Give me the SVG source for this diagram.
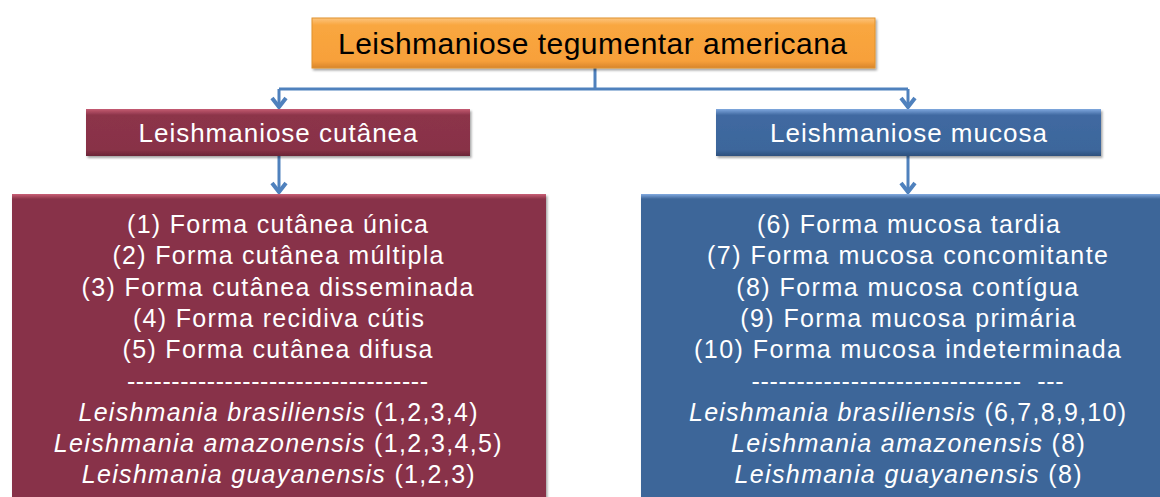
<svg xmlns="http://www.w3.org/2000/svg" width="1160" height="497" viewBox="0 0 1160 497">
<style>
  .t { font-family: "Liberation Sans", Arial, sans-serif; text-anchor: middle; }
  .w { fill: #FFFFFF; }
  .b { font-size: 25px; }
  .i { font-style: italic; }
  .conn { fill: none; stroke: #4F81BD; stroke-width: 3; }
</style>
<defs>
  <linearGradient id="gOr" x1="0" y1="0" x2="0" y2="1">
    <stop offset="0" stop-color="#FDC47C"/>
    <stop offset="0.14" stop-color="#F9A740"/>
    <stop offset="0.86" stop-color="#F7A03A"/>
    <stop offset="1" stop-color="#D8852C"/>
  </linearGradient>
  <linearGradient id="gMa" x1="0" y1="0" x2="0" y2="1">
    <stop offset="0" stop-color="#C55C72"/>
    <stop offset="0.13" stop-color="#8C3449"/>
    <stop offset="0.87" stop-color="#883247"/>
    <stop offset="1" stop-color="#6A2536"/>
  </linearGradient>
  <linearGradient id="gBl" x1="0" y1="0" x2="0" y2="1">
    <stop offset="0" stop-color="#7FA8DE"/>
    <stop offset="0.13" stop-color="#4069A1"/>
    <stop offset="0.87" stop-color="#3C669B"/>
    <stop offset="1" stop-color="#2C4F7C"/>
  </linearGradient>
  <linearGradient id="hMa" x1="0" y1="0" x2="0" y2="1">
    <stop offset="0" stop-color="#C95F76"/>
    <stop offset="1" stop-color="#8A3348"/>
  </linearGradient>
  <linearGradient id="hBl" x1="0" y1="0" x2="0" y2="1">
    <stop offset="0" stop-color="#82AAE0"/>
    <stop offset="1" stop-color="#3E6699"/>
  </linearGradient>
  <filter id="sh" x="-5%" y="-20%" width="110%" height="150%">
    <feDropShadow dx="1.5" dy="2" stdDeviation="1.2" flood-color="#000" flood-opacity="0.35"/>
  </filter>
  <marker id="arr" viewBox="-12 -9 14 18" refX="0" refY="0" markerWidth="14" markerHeight="18" markerUnits="userSpaceOnUse" orient="auto">
    <path d="M-10,-7 L-1,0 L-10,7" fill="none" stroke="#4F81BD" stroke-width="4" stroke-linejoin="miter"/>
  </marker>
</defs>

<rect width="1160" height="497" fill="#FFFFFF"/>

<g id="connectors">
  <path class="conn" d="M595,68 V89"/>
  <path class="conn" d="M279,89 H908"/>
  <path class="conn" d="M279,89 V108" marker-end="url(#arr)"/>
  <path class="conn" d="M908,89 V108" marker-end="url(#arr)"/>
  <path class="conn" d="M279,156 V193" marker-end="url(#arr)"/>
  <path class="conn" d="M908,156 V193" marker-end="url(#arr)"/>
</g>

<g id="node-root">
  <rect x="312" y="18" width="563" height="50" fill="url(#gOr)" stroke="#E0922F" stroke-width="1" filter="url(#sh)"/>
  <text class="t" x="592.5" y="54" font-size="30" fill="#000000" textLength="509" lengthAdjust="spacing">Leishmaniose tegumentar americana</text>
</g>

<g id="node-cutanea">
  <rect x="86" y="109" width="384" height="47" fill="url(#gMa)" filter="url(#sh)"/>
  <text class="t w" x="278" y="142" font-size="26" textLength="279" lengthAdjust="spacing">Leishmaniose cutânea</text>
</g>

<g id="node-mucosa">
  <rect x="716" y="109" width="385" height="47" fill="url(#gBl)" filter="url(#sh)"/>
  <text class="t w" x="908.5" y="142" font-size="26" textLength="277" lengthAdjust="spacing">Leishmaniose mucosa</text>
</g>

<g id="node-cutanea-forms">
  <rect x="12" y="194" width="534" height="320" fill="#88334A" filter="url(#sh)"/>
  <rect x="12" y="194" width="534" height="5" fill="url(#hMa)"/>
  <g class="t w b">
    <text x="277.5" y="233" textLength="301" lengthAdjust="spacing">(1) Forma cutânea única</text>
    <text x="278" y="264.3" textLength="331" lengthAdjust="spacing">(2) Forma cutânea múltipla</text>
    <text x="277.5" y="295.6" textLength="392" lengthAdjust="spacing">(3) Forma cutânea disseminada</text>
    <text x="278.5" y="326.9" textLength="291" lengthAdjust="spacing">(4) Forma recidiva cútis</text>
    <text x="277.5" y="358.2" textLength="310" lengthAdjust="spacing">(5) Forma cutânea difusa</text>
    <text x="277.5" y="389.5" textLength="301" lengthAdjust="spacing">----------------------------------</text>
    <text x="278" y="420.8" textLength="399" lengthAdjust="spacing"><tspan class="i">Leishmania brasiliensis</tspan> (1,2,3,4)</text>
    <text x="277.7" y="452.1" textLength="448" lengthAdjust="spacing"><tspan class="i">Leishmania amazonensis</tspan> (1,2,3,4,5)</text>
    <text x="278.2" y="483.4" textLength="393" lengthAdjust="spacing"><tspan class="i">Leishmania guayanensis</tspan> (1,2,3)</text>
  </g>
</g>

<g id="node-mucosa-forms">
  <rect x="641" y="194" width="540" height="320" fill="#3D6699" filter="url(#sh)"/>
  <rect x="641" y="194" width="540" height="5" fill="url(#hBl)"/>
  <g class="t w b">
    <text x="908.4" y="233" textLength="303" lengthAdjust="spacing">(6) Forma mucosa tardia</text>
    <text x="907.5" y="264.3" textLength="401" lengthAdjust="spacing">(7) Forma mucosa concomitante</text>
    <text x="907.2" y="295.6" textLength="342" lengthAdjust="spacing">(8) Forma mucosa contígua</text>
    <text x="907.8" y="326.9" textLength="335" lengthAdjust="spacing">(9) Forma mucosa primária</text>
    <text x="907.5" y="358.2" textLength="427" lengthAdjust="spacing">(10) Forma mucosa indeterminada</text>
    <text x="907.5" y="389.5" textLength="312" lengthAdjust="spacing">------------------------------&#160;&#160;---</text>
    <text x="907.5" y="420.8" textLength="437" lengthAdjust="spacing"><tspan class="i">Leishmania brasiliensis</tspan> (6,7,8,9,10)</text>
    <text x="907.9" y="452.1" textLength="354" lengthAdjust="spacing"><tspan class="i">Leishmania amazonensis</tspan> (8)</text>
    <text x="908" y="483.4" textLength="347" lengthAdjust="spacing"><tspan class="i">Leishmania guayanensis</tspan> (8)</text>
  </g>
</g>
</svg>
